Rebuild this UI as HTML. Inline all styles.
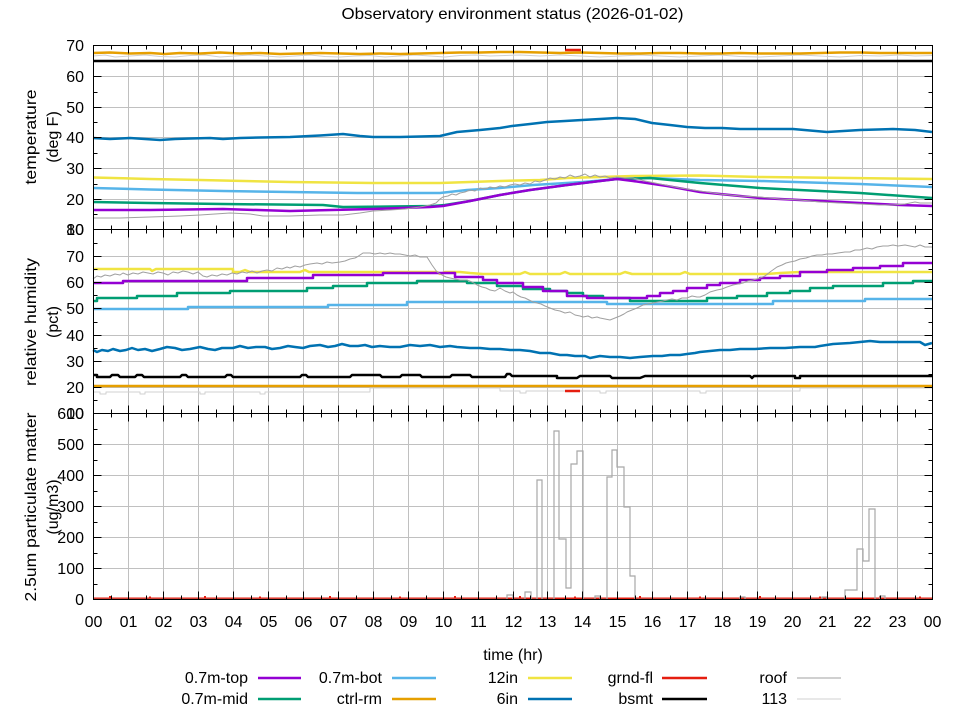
<!DOCTYPE html>
<html><head><meta charset="utf-8"><style>
html,body{margin:0;padding:0;background:#fff;}
svg{display:block;}
text{font-family:"Liberation Sans",sans-serif;font-size:16px;fill:#000;}
</style></head><body>
<svg width="960" height="720" viewBox="0 0 960 720" xmlns="http://www.w3.org/2000/svg">
<rect width="960" height="720" fill="#fff"/>
<text x="512.5" y="19" text-anchor="middle" textLength="342" lengthAdjust="spacingAndGlyphs">Observatory environment status (2026-01-02)</text>

<!-- grid -->
<g stroke="#c0c0c0" stroke-width="1" fill="none">
<path d="M128.5 45.5V599.5M163.5 45.5V599.5M198.5 45.5V599.5M233.5 45.5V599.5M268.5 45.5V599.5M303.5 45.5V599.5M338.5 45.5V599.5M373.5 45.5V599.5M408.5 45.5V599.5M443.5 45.5V599.5M478.5 45.5V599.5M513.5 45.5V599.5M547.5 45.5V599.5M582.5 45.5V599.5M617.5 45.5V599.5M652.5 45.5V599.5M687.5 45.5V599.5M722.5 45.5V599.5M757.5 45.5V599.5M792.5 45.5V599.5M827.5 45.5V599.5M862.5 45.5V599.5M897.5 45.5V599.5"/>
<path d="M93.5 76.5H932.5M93.5 107.5H932.5M93.5 137.5H932.5M93.5 168.5H932.5M93.5 199.5H932.5M93.5 256.5H932.5M93.5 282.5H932.5M93.5 308.5H932.5M93.5 335.5H932.5M93.5 361.5H932.5M93.5 387.5H932.5M93.5 444.5H932.5M93.5 475.5H932.5M93.5 506.5H932.5M93.5 537.5H932.5M93.5 568.5H932.5"/>
</g>

<!-- ===== Panel 1: temperature ===== -->
<g fill="none" stroke-linejoin="round">
<polyline stroke="#d0d0d0" stroke-width="1" points="93,56 105,55 115,57 130,56 145,55 160,56.5 175,57 190,55.5 205,55 220,57 235,56 250,55 265,56 280,57 295,56 310,55 325,56.5 340,57 355,56 370,55.5 385,57 400,56 415,55 430,56 445,57 460,55.5 475,55 490,56 505,55.5 520,55 540,56 560,55 580,56 600,57 620,56 640,55 660,56 680,57 700,56 720,55 740,56.5 760,57 780,56 800,55 820,56 840,57 860,55.5 880,56 900,55 915,56 932,55.5"/>
<polyline stroke="#e69f00" stroke-width="2.5" points="93,53 110,52.5 130,53.5 150,53 165,54 180,53 200,53.5 220,52.5 240,53.5 260,53 280,54 300,53.5 320,53 340,53.5 360,54 380,53.5 400,54 420,53.5 440,53 460,52.5 480,52.5 500,52 520,52 540,52.5 560,53 580,52.5 600,53 620,53.5 640,53.5 660,53 680,53 700,53.5 720,53.5 740,53 760,53.5 780,53.5 800,53.5 820,53 840,52.5 860,52.5 880,53 900,53 932,53"/>
<polyline stroke="#000" stroke-width="2.5" points="93,61 932,61"/>
<polyline stroke="#e51e10" stroke-width="2.5" points="565,50 581,50"/>
<polyline stroke="#0072b2" stroke-width="2.5" points="93,138 110,139 130,138 160,140 175,139 190,138.5 210,138 223,139 240,138 260,137.5 290,137 320,135.5 343,134 360,136 373,137 400,137 420,136.5 440,136 457,132 480,130 500,128 512,126 530,124 547,122 565,121 582,120 600,119 617,118 635,119 652,123 670,125 687,127 705,128 722,128 740,129 760,129 793,129 827,132 860,130 893,129 915,130 932,132"/>
<polyline stroke="#f0e442" stroke-width="2.5" points="93,177.5 150,179 200,180 290,182 373,183 440,183 500,181 540,180 567,178 600,177 633,176 700,175.5 760,177 850,178 932,179"/>
<polyline stroke="#56b4e9" stroke-width="2.5" points="93,188 150,189.5 223,191 290,192 357,193 440,193 467,190 500,188 533,185 583,182 617,179 650,178 700,180 760,181 860,184 932,187"/>
<polyline stroke="#009e73" stroke-width="2.5" points="93,202 150,203 223,204 323,205 343,207 433,206 445,205 470,201 500,195 530,190 567,185 600,181 617,179 650,178 680,181 700,183 760,188 860,193 932,198"/>
<polyline stroke="#9400d3" stroke-width="2.5" points="93,210 150,210 223,209 290,211 373,209 430,207 443,206 470,201 500,195 530,190 567,185 600,181 617,179 633,181 667,186 700,192 730,195 760,198 800,200 860,203 900,205 932,206"/>
<polyline stroke="#a0a0a0" stroke-width="1" points="93,218 120,218 150,217 180,216 200,215 230,213 250,214 263,216 290,216 320,215 343,215 360,213 373,211 390,210 405,209 420,207 430,205 436,203 440,199 443,197 448,196 452,194 456,195 460,193 465,192 470,190 475,191 480,188 485,189 490,187 495,188 500,186 505,187 510,185 515,184 520,185 525,183 530,184 535,181 540,182 545,180 550,178 555,179 560,177 565,178 570,175 575,177 580,176 585,174 590,177 595,175 600,177 605,176 610,178 617,177 625,178 633,178 645,181 660,184 680,188 700,191 720,194 740,196 760,197 780,199 800,200 820,202 840,203 860,204 880,205 893,205 905,204 915,202 920,203 932,203"/>
</g>

<!-- ===== Panel 2: humidity ===== -->
<g fill="none" stroke-linejoin="round">
<polyline stroke="#d0d0d0" stroke-width="1" points="93,392 100,392 100,394 106,394 106,392 140,392 140,394 145,394 145,392 200,392 200,394 205,394 205,392 260,392 260,394 265,394 265,392 370,392 370,388 500,388 500,391 520,391 520,393 526,393 526,391 600,391 600,393 606,393 606,391 700,391 700,393 706,393 706,391 800,391 800,388 932,388"/>
<polyline stroke="#e69f00" stroke-width="2.5" points="93,386 932,386"/>
<polyline stroke="#e51e10" stroke-width="2.5" points="565,391 580,391"/>
<polyline stroke="#000" stroke-width="2.5" points="93,375 97,375 97,377 110,377 112,375 118,375 120,377 135,377 137,375 142,375 144,377 180,377 182,375 186,375 188,377 225,377 227,375 231,375 233,377 300,377 302,375 306,375 308,377 350,377 352,375 380,375 382,377 400,377 402,375 420,375 422,377 450,377 452,375 470,375 472,377 505,377 507,374 510,374 512,376 557,376 557,378 577,378 580,376 610,376 612,378 640,378 645,376 690,376 700,376 750,376 752,378 754,376 795,376 795,378 800,378 800,376 932,376"/>
<polyline stroke="#0072b2" stroke-width="2.5" points="93,350 97,352 102,350 108,351 113,349 120,351 126,350 132,348 138,350 145,349 152,351 160,349 167,347 175,348 182,350 190,349 200,347 208,349 215,350 222,348 233,348 240,346 248,348 256,347 265,347 272,349 280,348 288,346 295,347 303,348 310,346 320,345 328,347 335,346 342,344 350,346 358,346 365,345 372,347 380,346 390,347 400,347 410,345 420,346 430,345 440,347 450,346 457,347 470,348 480,348 490,349 500,349 510,350 520,350 530,351 540,353 550,353 560,355 567,355 575,356 585,356 590,358 600,356 610,357 620,357 630,358 640,357 653,356 662,356 670,355 680,355 687,354 695,353 700,352 710,351 720,350 730,350 740,349 755,349 770,348 785,348 800,347 815,347 820,346 833,344 850,343 860,342 870,341 880,342 890,342 900,342 910,342 920,342 925,345 932,343"/>
<polyline stroke="#f0e442" stroke-width="2.5" points="93,269 150,269 152,271 156,269 233,269 233,272 240,272 245,270 250,272 300,272 305,270 309,272 437,272 440,274 445,272 460,272 470,273 483,274 500,274 520,274 525,272 530,274 560,274 565,272 570,274 620,274 625,272 632,274 680,274 685,272 690,274 767,274 780,273 800,272 932,272"/>
<polyline stroke="#56b4e9" stroke-width="2.5" points="93,309 188,309 188,307 328,307 328,305 407,305 407,302 607,302 607,304 773,304 773,301 865,301 865,299 932,299"/>
<polyline stroke="#009e73" stroke-width="2.5" points="93,301 97,301 97,298 137,298 137,296 177,296 177,293 230,293 230,291 307,291 307,288 333,288 333,286 367,286 367,283 417,283 417,281 467,281 467,283 497,283 497,286 523,286 523,289 550,289 550,291 567,291 567,293 583,293 583,296 603,296 603,298 630,298 630,301 707,301 707,298 737,298 737,296 767,296 767,293 790,293 790,291 810,291 810,288 833,288 833,286 883,286 883,283 913,283 913,281 932,281"/>
<polyline stroke="#9400d3" stroke-width="2.5" points="93,283 123,283 123,281 247,281 247,278 313,278 313,275 383,275 383,273 455,273 455,277 483,277 483,280 497,280 497,283 523,283 523,287 543,287 543,291 567,291 567,296 587,296 587,298 647,298 647,296 660,296 660,293 673,293 673,291 687,291 687,288 707,288 707,285 720,285 720,283 740,283 740,280 760,280 760,278 780,278 780,276 800,276 800,272 827,272 827,270 853,270 853,268 880,268 880,266 903,266 903,263 932,263"/>
<polyline stroke="#a0a0a0" stroke-width="1" points="93,279 97,276 101,277 105,275 110,276 115,274 120,275 123,273 128,275 133,273 138,274 143,272 148,273 153,274 158,272 163,273 168,275 173,272 178,273 183,271 188,272 193,274 198,272 203,276 207,277 212,275 217,276 222,274 227,275 232,273 237,274 242,272 247,273 252,271 257,273 262,271 267,270 272,271 277,268 282,269 287,267 290,268 295,266 300,267 305,265 310,264 317,263 322,264 327,262 332,263 340,262 345,261 350,259 355,258 357,257 363,253 370,253 375,254 380,253 385,254 390,253 395,254 400,254 405,255 410,256 415,255 420,257 427,257 432,265 437,272 442,275 446,277 450,278 455,279 460,280 467,280 472,282 477,285 482,287 486,288 490,290 495,291 500,288 505,291 510,293 513,292 517,295 521,297 525,298 529,300 533,302 537,303 541,304 545,306 550,308 555,310 560,311 565,313 570,312 575,315 580,316 583,317 588,316 592,318 597,317 600,318 605,319 610,320 615,318 620,316 624,314 627,312 632,310 637,308 643,305 648,304 653,303 658,302 663,301 667,300 672,299 677,300 682,298 687,298 692,296 697,297 700,297 705,295 710,292 717,290 722,289 727,287 733,285 738,284 743,283 748,281 753,280 760,278 765,276 770,272 777,267 782,265 786,263 790,262 795,261 800,259 806,258 812,256 817,255 822,255 827,254 832,254 838,253 845,252 850,252 855,250 860,250 867,248 872,249 877,247 883,246 888,246 893,245 898,246 905,245 910,246 915,247 920,245 925,247 932,247"/>
</g>

<!-- ===== Panel 3: particulate ===== -->
<g fill="none">
<path stroke="#e51e10" stroke-width="2" d="M93 598.5H932M110 598.5V596M150 598.5V596.5M205 598.5V596M260 598.5V596.5M330 598.5V596M400 598.5V596.5M455 598.5V596M520 598.5V596M575 598.5V596.5M640 598.5V596M700 598.5V596.5M760 598.5V596M820 598.5V596.5M880 598.5V596M920 598.5V596.5"/>
<polyline stroke="#a8a8a8" stroke-width="1.2" points="93,599.3 507,599.3 507,595 513,595 513,599.3 525,599.3 525,592 531,592 531,599.3 537,599.3 537,480 542,480 542,599.3 554,599.3 554,431 559,431 559,539 566,539 566,588 571,588 571,464 577,464 577,451 583,451 583,599.3 595,599.3 595,596 600,596 600,599.3 607,599.3 607,477 612,477 612,450 617,450 617,467 624,467 624,507 630,507 630,576 635,576 635,599.3 740,599.3 740,597 745,597 745,599.3 822,599.3 822,597 827,597 827,599.3 845,599.3 845,590 857,590 857,549 863,549 863,561 869,561 869,509 875,509 875,599.3 880,599.3 880,596 885,596 885,599.3 932,599.3"/>
</g>

<!-- frame -->
<g stroke="#000" stroke-width="1" fill="none">
<rect x="93.5" y="45.5" width="839" height="554"/>
<path d="M93.5 229.5H932.5M93.5 413.5H932.5"/>
<!-- x major ticks -->
<path d="M128.5 45.5V53.5M128.5 221.5V237.5M128.5 405.5V421.5M128.5 591.5V599.5
M163.5 45.5V53.5M163.5 221.5V237.5M163.5 405.5V421.5M163.5 591.5V599.5
M198.5 45.5V53.5M198.5 221.5V237.5M198.5 405.5V421.5M198.5 591.5V599.5
M233.5 45.5V53.5M233.5 221.5V237.5M233.5 405.5V421.5M233.5 591.5V599.5
M268.5 45.5V53.5M268.5 221.5V237.5M268.5 405.5V421.5M268.5 591.5V599.5
M303.5 45.5V53.5M303.5 221.5V237.5M303.5 405.5V421.5M303.5 591.5V599.5
M338.5 45.5V53.5M338.5 221.5V237.5M338.5 405.5V421.5M338.5 591.5V599.5
M373.5 45.5V53.5M373.5 221.5V237.5M373.5 405.5V421.5M373.5 591.5V599.5
M408.5 45.5V53.5M408.5 221.5V237.5M408.5 405.5V421.5M408.5 591.5V599.5
M443.5 45.5V53.5M443.5 221.5V237.5M443.5 405.5V421.5M443.5 591.5V599.5
M478.5 45.5V53.5M478.5 221.5V237.5M478.5 405.5V421.5M478.5 591.5V599.5
M513.5 45.5V53.5M513.5 221.5V237.5M513.5 405.5V421.5M513.5 591.5V599.5
M547.5 45.5V53.5M547.5 221.5V237.5M547.5 405.5V421.5M547.5 591.5V599.5
M582.5 45.5V53.5M582.5 221.5V237.5M582.5 405.5V421.5M582.5 591.5V599.5
M617.5 45.5V53.5M617.5 221.5V237.5M617.5 405.5V421.5M617.5 591.5V599.5
M652.5 45.5V53.5M652.5 221.5V237.5M652.5 405.5V421.5M652.5 591.5V599.5
M687.5 45.5V53.5M687.5 221.5V237.5M687.5 405.5V421.5M687.5 591.5V599.5
M722.5 45.5V53.5M722.5 221.5V237.5M722.5 405.5V421.5M722.5 591.5V599.5
M757.5 45.5V53.5M757.5 221.5V237.5M757.5 405.5V421.5M757.5 591.5V599.5
M792.5 45.5V53.5M792.5 221.5V237.5M792.5 405.5V421.5M792.5 591.5V599.5
M827.5 45.5V53.5M827.5 221.5V237.5M827.5 405.5V421.5M827.5 591.5V599.5
M862.5 45.5V53.5M862.5 221.5V237.5M862.5 405.5V421.5M862.5 591.5V599.5
M897.5 45.5V53.5M897.5 221.5V237.5M897.5 405.5V421.5M897.5 591.5V599.5"/>
<!-- x minor ticks -->
<path d="M111.5 45.5V49.5M111.5 225.5V233.5M111.5 409.5V417.5M111.5 595.5V599.5
M146.5 45.5V49.5M146.5 225.5V233.5M146.5 409.5V417.5M146.5 595.5V599.5
M181.5 45.5V49.5M181.5 225.5V233.5M181.5 409.5V417.5M181.5 595.5V599.5
M216.5 45.5V49.5M216.5 225.5V233.5M216.5 409.5V417.5M216.5 595.5V599.5
M251.5 45.5V49.5M251.5 225.5V233.5M251.5 409.5V417.5M251.5 595.5V599.5
M286.5 45.5V49.5M286.5 225.5V233.5M286.5 409.5V417.5M286.5 595.5V599.5
M321.5 45.5V49.5M321.5 225.5V233.5M321.5 409.5V417.5M321.5 595.5V599.5
M356.5 45.5V49.5M356.5 225.5V233.5M356.5 409.5V417.5M356.5 595.5V599.5
M391.5 45.5V49.5M391.5 225.5V233.5M391.5 409.5V417.5M391.5 595.5V599.5
M426.5 45.5V49.5M426.5 225.5V233.5M426.5 409.5V417.5M426.5 595.5V599.5
M461.5 45.5V49.5M461.5 225.5V233.5M461.5 409.5V417.5M461.5 595.5V599.5
M496.5 45.5V49.5M496.5 225.5V233.5M496.5 409.5V417.5M496.5 595.5V599.5
M530.5 45.5V49.5M530.5 225.5V233.5M530.5 409.5V417.5M530.5 595.5V599.5
M565.5 45.5V49.5M565.5 225.5V233.5M565.5 409.5V417.5M565.5 595.5V599.5
M600.5 45.5V49.5M600.5 225.5V233.5M600.5 409.5V417.5M600.5 595.5V599.5
M635.5 45.5V49.5M635.5 225.5V233.5M635.5 409.5V417.5M635.5 595.5V599.5
M670.5 45.5V49.5M670.5 225.5V233.5M670.5 409.5V417.5M670.5 595.5V599.5
M705.5 45.5V49.5M705.5 225.5V233.5M705.5 409.5V417.5M705.5 595.5V599.5
M740.5 45.5V49.5M740.5 225.5V233.5M740.5 409.5V417.5M740.5 595.5V599.5
M775.5 45.5V49.5M775.5 225.5V233.5M775.5 409.5V417.5M775.5 595.5V599.5
M810.5 45.5V49.5M810.5 225.5V233.5M810.5 409.5V417.5M810.5 595.5V599.5
M845.5 45.5V49.5M845.5 225.5V233.5M845.5 409.5V417.5M845.5 595.5V599.5
M880.5 45.5V49.5M880.5 225.5V233.5M880.5 409.5V417.5M880.5 595.5V599.5
M915.5 45.5V49.5M915.5 225.5V233.5M915.5 409.5V417.5M915.5 595.5V599.5"/>
<!-- y major ticks -->
<path d="M93.5 76.5H101.5M932.5 76.5H924.5M93.5 107.5H101.5M932.5 107.5H924.5M93.5 137.5H101.5M932.5 137.5H924.5M93.5 168.5H101.5M932.5 168.5H924.5M93.5 199.5H101.5M932.5 199.5H924.5
M93.5 256.5H101.5M932.5 256.5H924.5M93.5 282.5H101.5M932.5 282.5H924.5M93.5 308.5H101.5M932.5 308.5H924.5M93.5 335.5H101.5M932.5 335.5H924.5M93.5 361.5H101.5M932.5 361.5H924.5M93.5 387.5H101.5M932.5 387.5H924.5
M93.5 444.5H101.5M932.5 444.5H924.5M93.5 475.5H101.5M932.5 475.5H924.5M93.5 506.5H101.5M932.5 506.5H924.5M93.5 537.5H101.5M932.5 537.5H924.5M93.5 568.5H101.5M932.5 568.5H924.5"/>
<!-- y minor ticks -->
<path d="M93.5 61.5H97.5M932.5 61.5H928.5M93.5 92.5H97.5M932.5 92.5H928.5M93.5 122.5H97.5M932.5 122.5H928.5M93.5 153.5H97.5M932.5 153.5H928.5M93.5 184.5H97.5M932.5 184.5H928.5M93.5 214.5H97.5M932.5 214.5H928.5
M93.5 243.5H97.5M932.5 243.5H928.5M93.5 269.5H97.5M932.5 269.5H928.5M93.5 295.5H97.5M932.5 295.5H928.5M93.5 322.5H97.5M932.5 322.5H928.5M93.5 348.5H97.5M932.5 348.5H928.5M93.5 374.5H97.5M932.5 374.5H928.5M93.5 400.5H97.5M932.5 400.5H928.5
M93.5 429.5H97.5M932.5 429.5H928.5M93.5 460.5H97.5M932.5 460.5H928.5M93.5 491.5H97.5M932.5 491.5H928.5M93.5 522.5H97.5M932.5 522.5H928.5M93.5 553.5H97.5M932.5 553.5H928.5M93.5 584.5H97.5M932.5 584.5H928.5"/>
</g>

<!-- y tick labels -->
<g text-anchor="end">
<text x="84" y="51">70</text>
<text x="84" y="82">60</text>
<text x="84" y="113">50</text>
<text x="84" y="143">40</text>
<text x="84" y="174">30</text>
<text x="84" y="205">20</text>
<text x="84" y="235">10</text>
<text x="84" y="235">80</text>
<text x="84" y="262">70</text>
<text x="84" y="288">60</text>
<text x="84" y="314">50</text>
<text x="84" y="341">40</text>
<text x="84" y="367">30</text>
<text x="84" y="393">20</text>
<text x="84" y="419">10</text>
<text x="84" y="419">600</text>
<text x="84" y="450">500</text>
<text x="84" y="481">400</text>
<text x="84" y="512">300</text>
<text x="84" y="543">200</text>
<text x="84" y="574">100</text>
<text x="84" y="605">0</text>
</g>

<!-- y axis titles -->
<text transform="translate(36,137) rotate(-90)" text-anchor="middle" textLength="95" lengthAdjust="spacingAndGlyphs">temperature</text>
<text transform="translate(58,137) rotate(-90)" text-anchor="middle">(deg F)</text>
<text transform="translate(36,322) rotate(-90)" text-anchor="middle" textLength="128" lengthAdjust="spacingAndGlyphs">relative humidity</text>
<text transform="translate(58,322) rotate(-90)" text-anchor="middle">(pct)</text>
<text transform="translate(36,507) rotate(-90)" text-anchor="middle" textLength="189" lengthAdjust="spacingAndGlyphs">2.5um particulate matter</text>
<text transform="translate(58,507) rotate(-90)" text-anchor="middle">(ug/m3)</text>

<!-- x tick labels -->
<g text-anchor="middle">
<text x="93.5" y="627">00</text><text x="128.5" y="627">01</text><text x="163.5" y="627">02</text><text x="198.5" y="627">03</text><text x="233.5" y="627">04</text><text x="268.5" y="627">05</text><text x="303.5" y="627">06</text><text x="338.5" y="627">07</text><text x="373.5" y="627">08</text><text x="408.5" y="627">09</text><text x="443.5" y="627">10</text><text x="478.5" y="627">11</text><text x="513.5" y="627">12</text><text x="547.5" y="627">13</text><text x="582.5" y="627">14</text><text x="617.5" y="627">15</text><text x="652.5" y="627">16</text><text x="687.5" y="627">17</text><text x="722.5" y="627">18</text><text x="757.5" y="627">19</text><text x="792.5" y="627">20</text><text x="827.5" y="627">21</text><text x="862.5" y="627">22</text><text x="897.5" y="627">23</text><text x="932.5" y="627">00</text>
</g>
<text x="513" y="660" text-anchor="middle">time (hr)</text>

<!-- legend -->
<g text-anchor="end">
<text x="248" y="683">0.7m-top</text>
<text x="248" y="704">0.7m-mid</text>
<text x="382" y="683">0.7m-bot</text>
<text x="382" y="704">ctrl-rm</text>
<text x="518" y="683">12in</text>
<text x="518" y="704">6in</text>
<text x="653" y="683">grnd-fl</text>
<text x="653" y="704">bsmt</text>
<text x="787" y="683">roof</text>
<text x="787" y="704">113</text>
</g>
<g fill="none" stroke-width="2.5">
<path stroke="#9400d3" d="M258 678H301"/>
<path stroke="#009e73" d="M258 699H301"/>
<path stroke="#56b4e9" d="M392 678H436"/>
<path stroke="#e69f00" d="M392 699H436"/>
<path stroke="#f0e442" d="M528 678H572"/>
<path stroke="#0072b2" d="M528 699H572"/>
<path stroke="#e51e10" d="M662 678H707"/>
<path stroke="#000" d="M662 699H707"/>
<path stroke="#a0a0a0" stroke-width="1" d="M797 678H841"/>
<path stroke="#d0d0d0" stroke-width="1" d="M797 699H841"/>
</g>
</svg>
</body></html>
